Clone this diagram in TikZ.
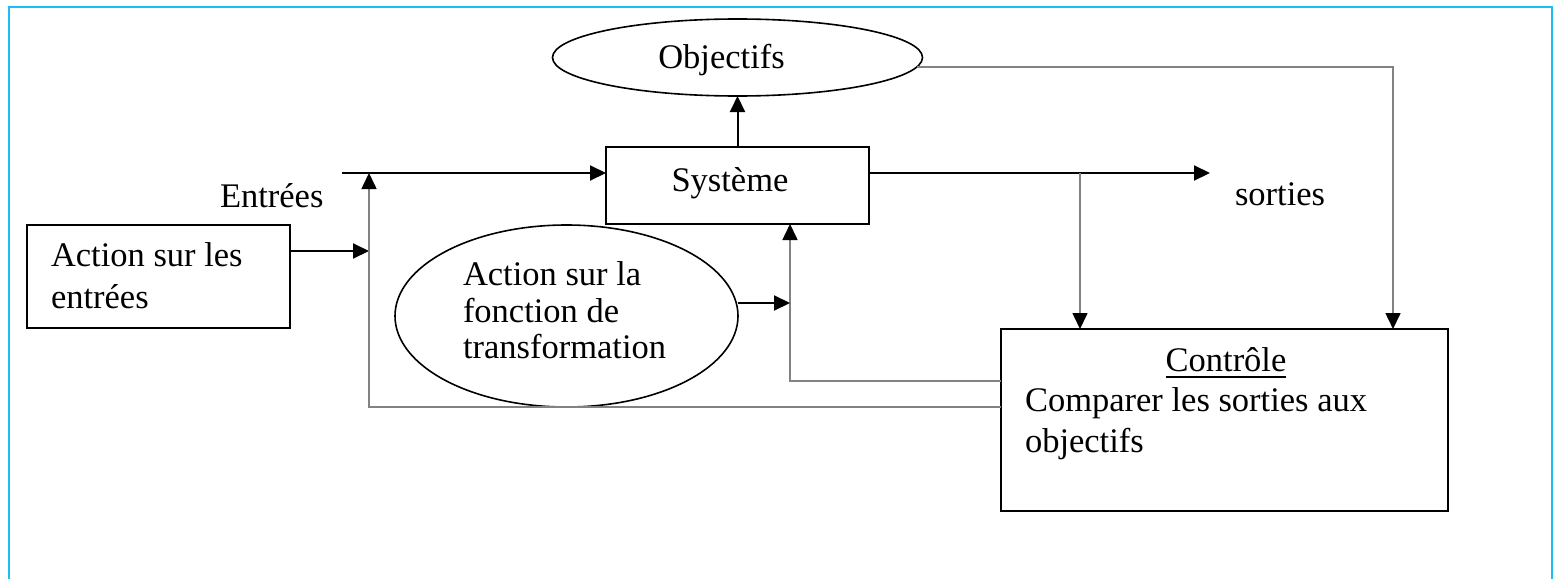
\documentclass[tikz,border=0pt]{standalone}
\usepackage{fontspec}
\setmainfont{Liberation Serif}
\usetikzlibrary{arrows.meta,shapes.geometric}
\definecolor{framecol}{RGB}{30,190,240}
\definecolor{lgray}{RGB}{130,130,130}
\begin{document}
\begin{tikzpicture}[x=1pt,y=-1pt,
  blk/.style={draw=black,line width=2pt},
  gry/.style={draw=lgray,line width=1.6pt},
  tip/.style={-{Triangle[length=16pt,width=15pt,color=black]}},
  boxshape/.style={blk,rectangle,inner sep=0pt,outer sep=0pt},
  ellshape/.style={draw=black,line width=1.6pt,ellipse,inner sep=0pt,outer sep=0pt},
  txt/.style={font=\fontsize{34.5}{40}\selectfont,inner sep=0pt,outer sep=0pt,text=black},
]
\useasboundingbox (0,0) rectangle (1554,578);
\draw[framecol,line width=2.5pt] (9,580) -- (9,7) -- (1552,7) -- (1552,580);

% shapes
\node[boxshape,minimum width=263pt,minimum height=103pt] (act) at (158.5,276.5) {};
\node[boxshape,minimum width=263pt,minimum height=77pt] (sys) at (737.5,185.5) {};
\node[ellshape,minimum width=370pt,minimum height=77pt] (obj) at (737.5,57.5) {};
\node[ellshape,minimum width=343pt,minimum height=182pt] (fct) at (566.5,316) {};
\node[boxshape,minimum width=447pt,minimum height=182pt] (ctl) at (1224.5,420) {};

% texts
\node[txt,anchor=base] (objt) at (721.5,68) {Objectifs};
\node[txt,anchor=base] (syst) at (730,191) {Système};
\node[txt,anchor=base west] (ent) at (220,207) {Entrées};
\node[txt,anchor=base west] (sor) at (1235,205) {sorties};
\node[txt,anchor=base west] (act1) at (51,266) {Action sur les};
\node[txt,anchor=base west] (act2) at (51,308) {entrées};
\node[txt,anchor=base west] (fct1) at (463,285) {Action sur la};
\node[txt,anchor=base west] (fct2) at (463,322) {fonction de};
\node[txt,anchor=base west] (fct3) at (463,358) {transformation};
\node[txt,anchor=base] (ctlt) at (1226,371) {Contrôle};
\draw[line width=1.6pt] ([yshift=-6pt]ctlt.base west) -- ([yshift=-6pt]ctlt.base east);
\node[txt,anchor=base west] (cmp1) at (1025,411) {Comparer les sorties aux};
\node[txt,anchor=base west] (cmp2) at (1025,452) {objectifs};

% connector points
\coordinate (inS) at (342,173);
\coordinate (jA) at (369,251);
\coordinate (fb1) at (369,407);
\coordinate (fb1top) at (369,173);
\coordinate (fb2) at (790,381);
\coordinate (jF) at (790,303);
\coordinate (outE) at (1210,173);
\coordinate (br) at (1080,173);
\coordinate (oc) at (1393,0);

% connectors
\draw[blk,tip] (inS) -- (inS -| sys.west);
\draw[blk,tip] (act.east |- jA) -- (jA);
\draw[gry,tip] (ctl.west |- fb1) -- (fb1) -- (fb1top);
\draw[gry,tip] (ctl.west |- fb2) -- (fb2) -- (fb2 |- sys.south);
\draw[blk,tip] (fct.east |- jF) -- (jF);
\draw[blk,tip] (sys.north) -- (obj.south);
\draw[blk,tip] (sys.east |- outE) -- (outE);
\draw[gry,tip] (br) -- (br |- ctl.north);
\draw[gry,tip] (obj.-3.7) -| (oc |- ctl.north);
\end{tikzpicture}
\end{document}
